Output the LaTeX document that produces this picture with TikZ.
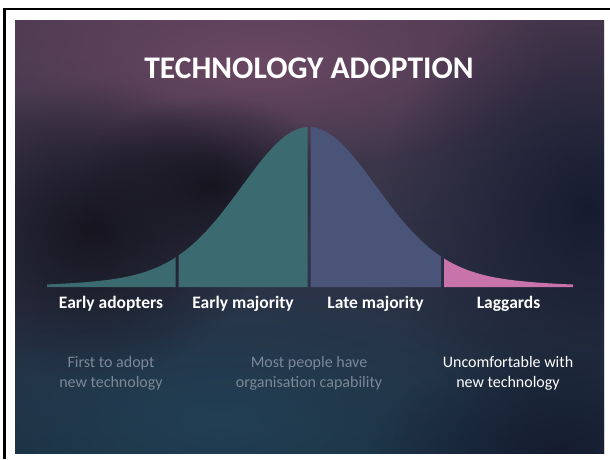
\documentclass[tikz,border=0pt]{standalone}
\usepackage{fontspec}
\setmainfont{Carlito}
\usetikzlibrary{fadings}
\tikzfading[name=softblob,inner color=transparent!0,outer color=transparent!100]
\definecolor{bgtop}{HTML}{4D3A50}
\definecolor{bgmid}{HTML}{1F2434}
\definecolor{bgbot}{HTML}{1A2E40}
\definecolor{plumlight}{HTML}{6B4863}
\definecolor{inkdark}{HTML}{161520}
\definecolor{navydark}{HTML}{161C30}
\definecolor{tealfog}{HTML}{223F54}
\definecolor{earlyteal}{HTML}{3B6B71}
\definecolor{lateslate}{HTML}{4A5478}
\definecolor{lagpink}{HTML}{C874AA}
\definecolor{notegray}{HTML}{7A8898}
\begin{document}
\begin{tikzpicture}[x=1pt,y=-1pt,
  declare function={bell(\x)=287-160*(0.88*exp(-0.5*((\x-309)/66)^2)+0.12*exp(-0.5*((\x-309)/130)^2));},
  lbl/.style={text=white,font=\bfseries\fontsize{17.5}{21}\selectfont,anchor=base,inner sep=0pt},
  note/.style={text=notegray,font=\fontsize{16}{20}\selectfont,align=center,inner sep=0pt}]
\useasboundingbox (0,0) rectangle (610,459);
\fill[white] (0,0) rectangle (610,459);
 % frame
 \draw[line width=2.4pt] (4.5,459)--(4.5,9)--(610,9);
 % watercolour background
 \begin{scope}
 \clip (15,20) rectangle (604,453);
 \shade[top color=bgtop,middle color=bgmid,bottom color=bgbot] (15,20) rectangle (604,453);
 \fill[plumlight,path fading=softblob] (260,60) ellipse (300 and 110);
 \fill[tealfog,path fading=softblob] (220,420) ellipse (330 and 150);
 \fill[inkdark,path fading=softblob] (90,230) ellipse (170 and 150);
 \fill[inkdark,path fading=softblob] (210,185) ellipse (130 and 90);
 \fill[navydark,path fading=softblob] (590,210) ellipse (210 and 230);
 \fill[navydark,path fading=softblob] (560,450) ellipse (190 and 100);
 \end{scope}
 % bell curve segments
 \fill[earlyteal](47,287)--plot[domain=47:175.5,samples=50](\x,{bell(\x)})--(175.5,287)--cycle;
 \fill[earlyteal](178.5,287)--plot[domain=178.5:307.5,samples=50](\x,{bell(\x)})--(307.5,287)--cycle;
 \fill[lateslate](310.5,287)--plot[domain=310.5:441,samples=50](\x,{bell(\x)})--(441,287)--cycle;
 \fill[lagpink](444,287)--plot[domain=444:573,samples=50](\x,{bell(\x)})--(573,287)--cycle;
 % texts
 \node[text=white,font=\bfseries\fontsize{31.5}{36}\selectfont,anchor=base] (title) at (309,78) {TECHNOLOGY ADOPTION};
 \node[lbl] (adopters) at (111,308) {Early adopters};
 \node[lbl] (earlymaj) at (243,308) {Early majority};
 \node[lbl] (latemaj) at (375.5,308) {Late majority};
 \node[lbl] (laggards) at (508.5,308) {Laggards};
 \node[note] (adoptnote) at (111,373) {First to adopt\\new technology};
 \node[note] (majnote) at (309,373) {Most people have\\organisation capability};
 \node[note,text=white] (lagnote) at (508,373) {Uncomfortable with\\new technology};
\end{tikzpicture}
\end{document}
